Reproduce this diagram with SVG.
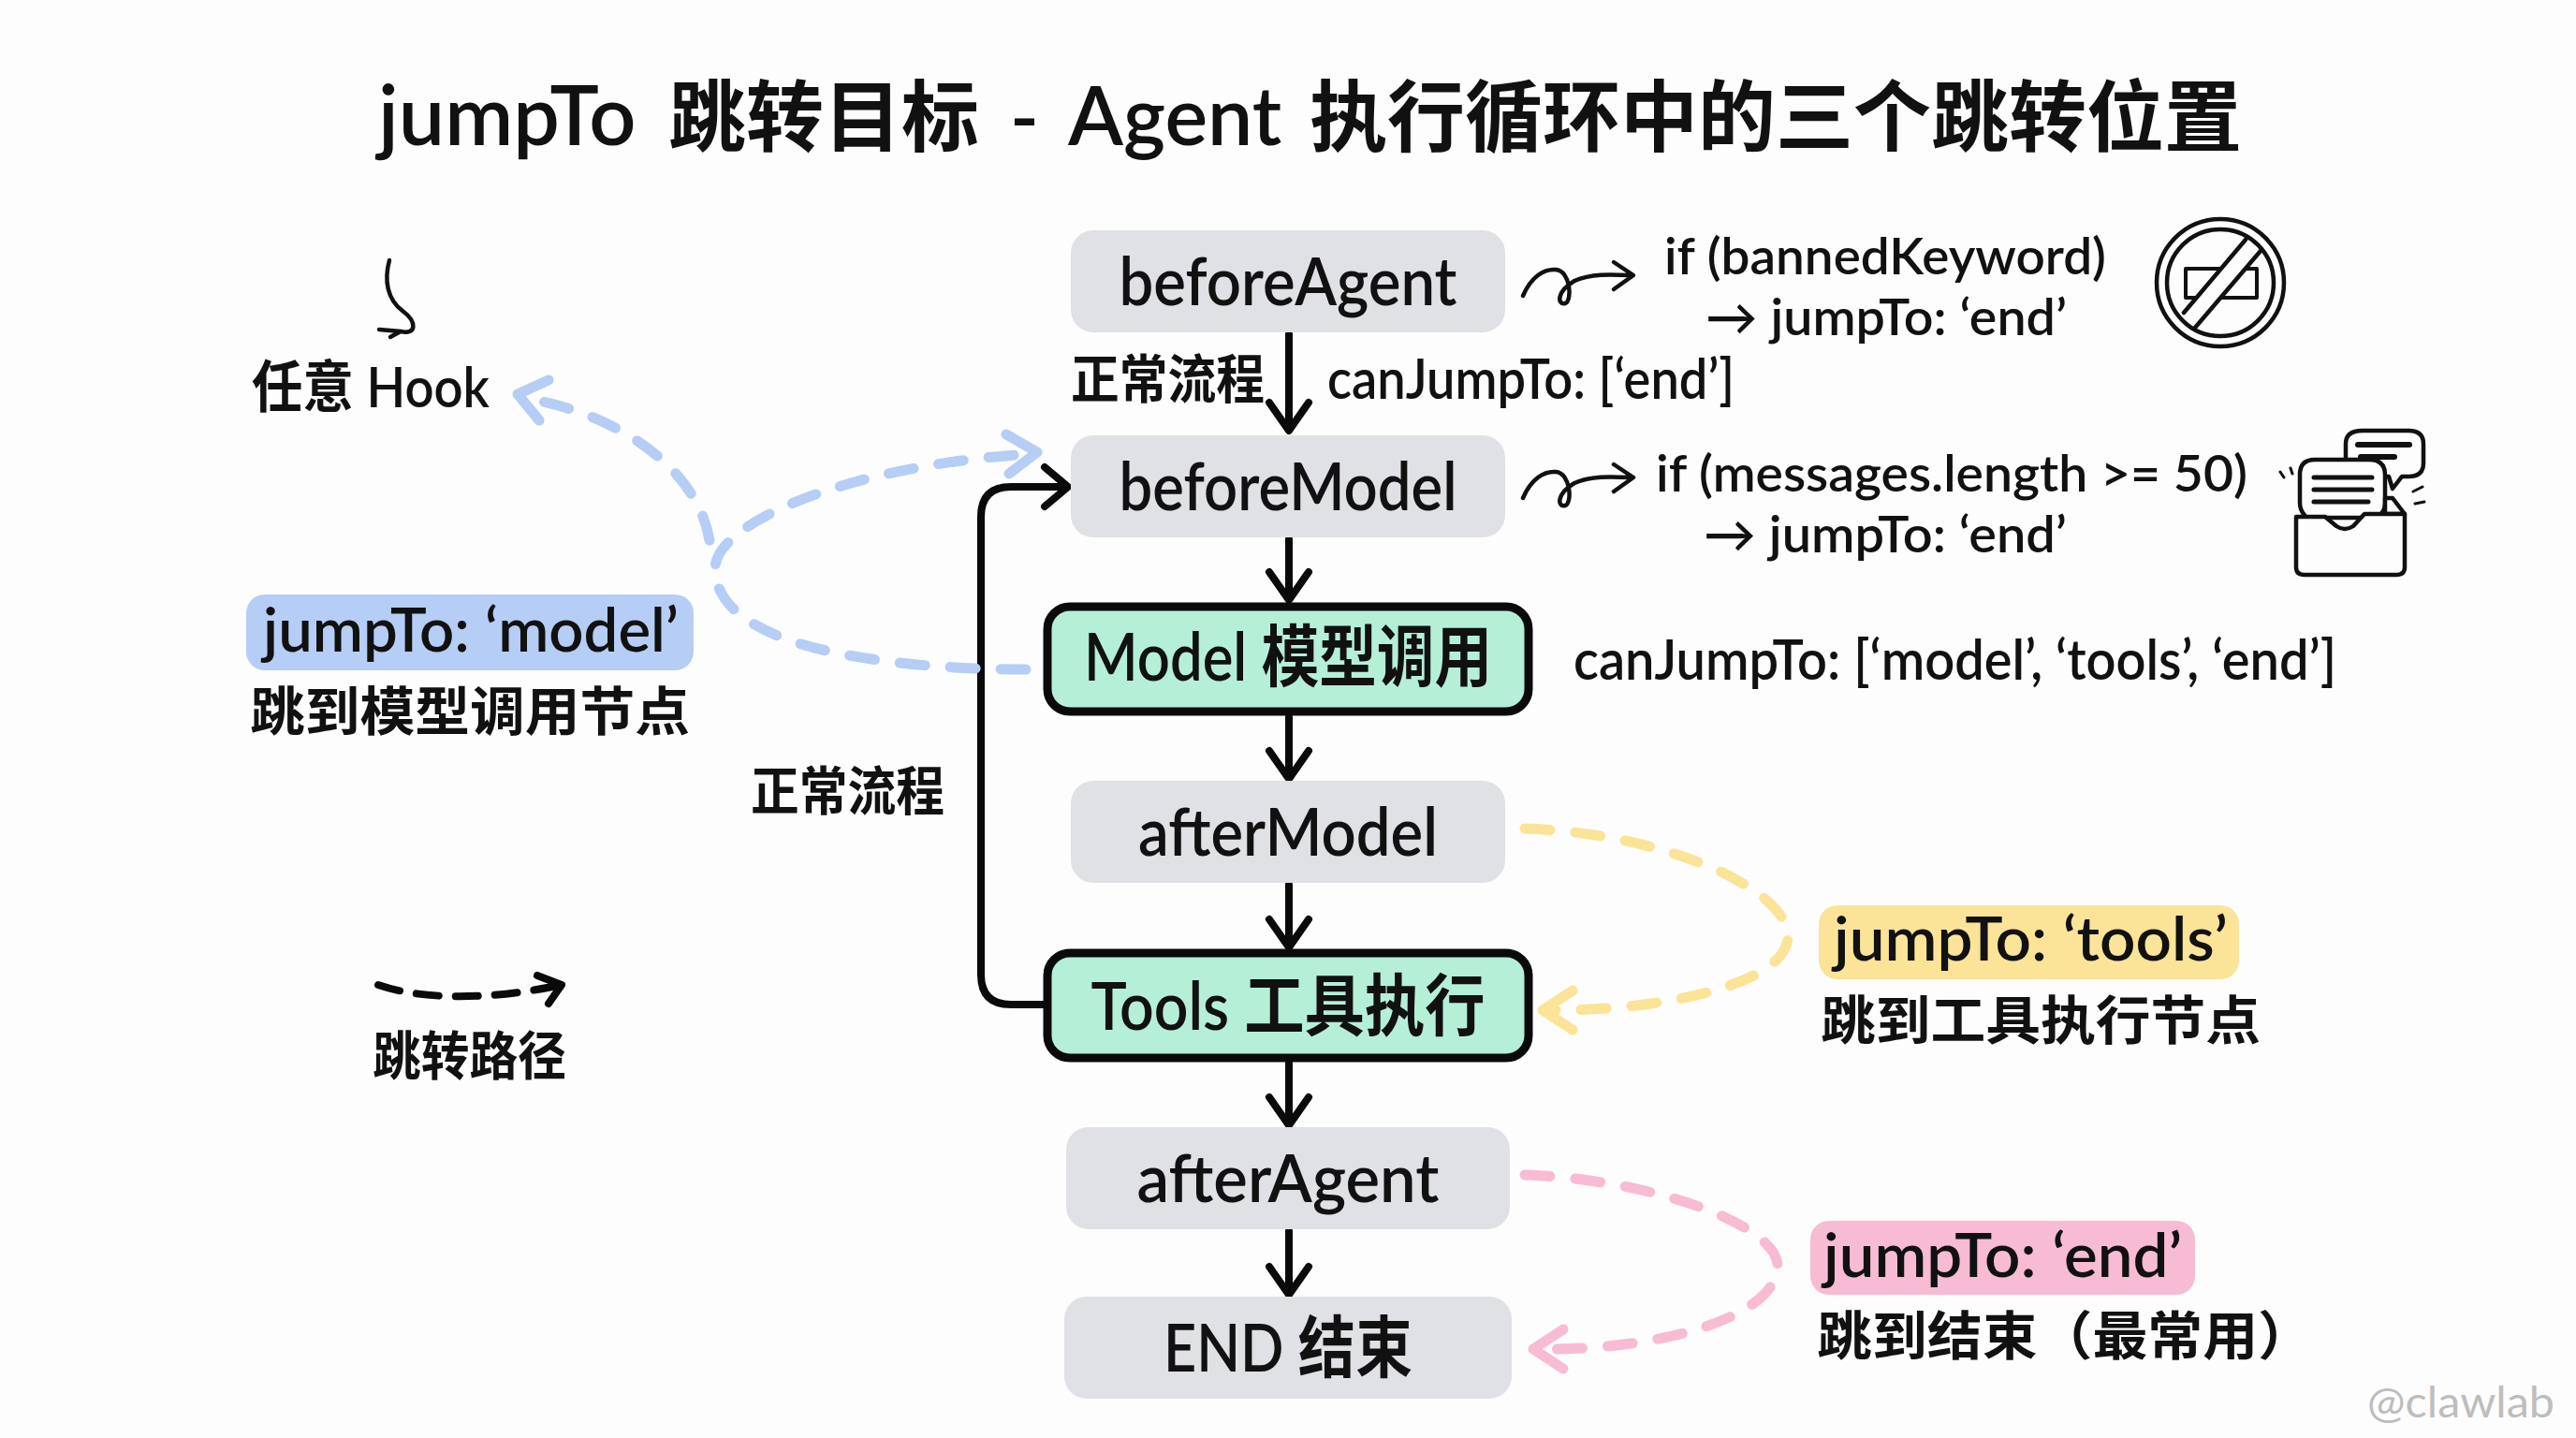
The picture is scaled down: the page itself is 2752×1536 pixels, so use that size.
<svg xmlns="http://www.w3.org/2000/svg" width="2752" height="1536" viewBox="0 0 2752 1536">
<style>
text{font-family:"Lato","Noto Sans CJK SC",sans-serif;font-weight:600;fill:#111}
.n{font-size:72px;text-anchor:middle}
.c{font-size:60px}
.t{font-size:54px}
.z{font-size:56px;font-weight:700}
.box{fill:#dfe1e5}
.act{fill:#b5efd8;stroke:#0a0a0a;stroke-width:9}
.flow{fill:none;stroke:#0a0a0a;stroke-width:8;stroke-linecap:round;stroke-linejoin:round}
.thin{fill:none;stroke:#111;stroke-width:4.5;stroke-linecap:round;stroke-linejoin:round}
.dash{fill:none;stroke-width:11;stroke-linecap:round;stroke-dasharray:27 27}
.head{fill:none;stroke-width:11;stroke-linecap:round;stroke-linejoin:round}
</style>
<rect width="2752" height="1536" fill="#fdfdfd"/>
<text id="title" y="155" font-size="83"><tspan x="404" font-size="88">jumpTo </tspan><tspan x="714">跳转目标 </tspan><tspan x="1079">- </tspan><tspan x="1141" font-size="86">Agent </tspan><tspan x="1399">执行循环中的三个跳转位置</tspan></text>

<g id="connectors">
<path class="flow" d="M1377 357V456M1356 430L1377 460L1398 430"/>
<path class="flow" d="M1377 576V640M1356 611L1377 641L1398 611"/>
<path class="flow" d="M1377 766V830M1356 802L1377 832L1398 802"/>
<path class="flow" d="M1377 945V1010M1356 982L1377 1012L1398 982"/>
<path class="flow" d="M1377 1136V1200M1356 1172L1377 1202L1398 1172"/>
<path class="flow" d="M1377 1315V1381M1356 1353L1377 1383L1398 1353"/>
<path class="flow" d="M1115 1073H1080Q1048 1073 1048 1041V552Q1048 520 1080 520H1136M1116 499L1141 520L1116 541"/>
<g stroke="#b6cdf6">
<path class="dash" d="M1096 715C980 715 764 700 764 607C764 560 900 500 1085 486"/>
<path class="head" d="M1075 464L1108 483L1078 506"/>
<path class="dash" d="M758 577C745 500 660 445 575 428"/>
<path class="head" d="M586 406L553 421L576 449"/>
</g>
<g stroke="#fbe498">
<path class="dash" d="M1629 885C1780 890 1910 950 1910 1000C1910 1050 1780 1079 1662 1079"/>
<path class="head" d="M1680 1058L1648 1079L1680 1100"/>
</g>
<g stroke="#f8bbd4">
<path class="dash" d="M1629 1255C1770 1260 1899 1310 1899 1352C1899 1405 1780 1441 1655 1441"/>
<path class="head" d="M1670 1420L1638 1441L1670 1462"/>
</g>
<path class="flow" style="stroke-dasharray:24 18" d="M404 1052C450 1068 520 1068 590 1054"/>
<path class="flow" d="M574 1042L600 1052L586 1072"/>
<path class="thin" d="M416 278C410 300 414 320 430 332C446 344 445 358 428 354L405 352M428 354L417 360"/>
<path class="thin" d="M1627 316C1636 295 1650 287 1662 288C1678 289 1680 322 1672 324C1664 326 1662 312 1682 300C1700 292 1720 293 1743 294M1724 280L1745 294L1724 309"/>
<path class="thin" d="M1627 532C1636 511 1650 503 1662 504C1678 505 1680 538 1672 540C1664 542 1662 528 1682 516C1700 508 1720 509 1743 510M1724 496L1745 510L1724 525"/>
</g>

<g id="beforeAgent"><rect class="box" x="1144" y="246" width="464" height="109" rx="24"/><text class="n" x="1376" y="326" textLength="361" lengthAdjust="spacingAndGlyphs">beforeAgent</text></g>
<g id="beforeModel"><rect class="box" x="1144" y="465" width="464" height="109" rx="24"/><text class="n" x="1376" y="545" textLength="361" lengthAdjust="spacingAndGlyphs">beforeModel</text></g>
<g id="model"><rect class="act" x="1119" y="648" width="514" height="112" rx="24"/><text class="n" x="1376" y="727" textLength="436" lengthAdjust="spacingAndGlyphs">Model 模型调用</text></g>
<g id="afterModel"><rect class="box" x="1144" y="834" width="464" height="109" rx="24"/><text class="n" x="1376" y="914" textLength="320" lengthAdjust="spacingAndGlyphs">afterModel</text></g>
<g id="tools"><rect class="act" x="1119" y="1018" width="514" height="112" rx="24"/><text class="n" x="1376" y="1100" textLength="421" lengthAdjust="spacingAndGlyphs">Tools 工具执行</text></g>
<g id="afterAgent"><rect class="box" x="1139" y="1204" width="474" height="109" rx="24"/><text class="n" x="1376" y="1284" textLength="323" lengthAdjust="spacingAndGlyphs">afterAgent</text></g>
<g id="end"><rect class="box" x="1137" y="1385" width="478" height="109" rx="24"/><text class="n" x="1376" y="1465" textLength="266" lengthAdjust="spacingAndGlyphs">END 结束</text></g>

<g id="labels">
<text class="z" x="1144" y="425" textLength="207" lengthAdjust="spacingAndGlyphs">正常流程</text>
<text class="c" x="1418" y="426" textLength="435" lengthAdjust="spacingAndGlyphs">canJumpTo: [‘end’]</text>
<text class="t" x="1778" y="293" textLength="472" lengthAdjust="spacingAndGlyphs">if (bannedKeyword)</text>
<text class="t" x="1822" y="358" textLength="386" lengthAdjust="spacingAndGlyphs">→ jumpTo: ‘end’</text>
<text class="t" x="1769" y="525" textLength="632" lengthAdjust="spacingAndGlyphs">if (messages.length &gt;= 50)</text>
<text class="t" x="1820" y="590" textLength="388" lengthAdjust="spacingAndGlyphs">→ jumpTo: ‘end’</text>
<text class="c" x="1681" y="726" textLength="815" lengthAdjust="spacingAndGlyphs">canJumpTo: [‘model’, ‘tools’, ‘end’]</text>
<text class="z" x="802" y="865" textLength="207" lengthAdjust="spacingAndGlyphs">正常流程</text>
<text class="z" x="398" y="1148" textLength="207" lengthAdjust="spacingAndGlyphs">跳转路径</text>
<text class="c" x="269" y="435" textLength="254" lengthAdjust="spacingAndGlyphs">任意 Hook</text>
</g>

<g id="jump-model"><rect x="263" y="635" width="478" height="81" rx="20" fill="#b6cdf6"/><text x="281" y="696" font-size="66" textLength="444" lengthAdjust="spacingAndGlyphs">jumpTo: ‘model’</text><text class="z" x="267" y="780" textLength="470" lengthAdjust="spacingAndGlyphs">跳到模型调用节点</text></g>
<g id="jump-tools"><rect x="1943" y="967" width="449" height="79" rx="20" fill="#fbe498"/><text x="1959" y="1026" font-size="66" textLength="421" lengthAdjust="spacingAndGlyphs">jumpTo: ‘tools’</text><text class="z" x="1945" y="1110" textLength="470" lengthAdjust="spacingAndGlyphs">跳到工具执行节点</text></g>
<g id="jump-end"><rect x="1934" y="1304" width="411" height="79" rx="20" fill="#f8bbd4"/><text x="1948" y="1364" font-size="66" textLength="383" lengthAdjust="spacingAndGlyphs">jumpTo: ‘end’</text><text class="z" x="1941" y="1447" textLength="530" lengthAdjust="spacingAndGlyphs">跳到结束（最常用）</text></g>

<g id="icon-ban" fill="none" stroke="#111" stroke-width="4.5" stroke-linejoin="round" stroke-linecap="round">
<circle cx="2372" cy="302" r="68"/><circle cx="2372" cy="302" r="57"/>
<rect x="2335" y="287" width="76" height="31" stroke-width="4"/>
<path d="M2333 334L2399 256L2415 268L2345 350Z" fill="#fdfdfd" stroke="none"/>
<path d="M2333 334L2399 256M2345 350L2415 268"/>
</g>
<g id="icon-chat" fill="#fdfdfd" stroke="#111" stroke-width="4.5" stroke-linejoin="round" stroke-linecap="round">
<path d="M2524 460H2573Q2589 460 2589 474V495Q2589 509 2573 509H2566L2556 522L2552 509H2520Q2506 509 2506 495V474Q2506 460 2524 460Z"/>
<path d="M2519 475H2574M2522 488H2558" stroke-width="6"/>
<path d="M2473 491H2531Q2548 491 2548 507V537Q2548 553 2531 553H2472L2462 566L2462 550Q2457 545 2457 537V507Q2457 491 2473 491Z"/>
<path d="M2472 510H2534M2472 523H2534M2472 536H2530" stroke-width="5"/>
<path d="M2548 532H2556L2569 549H2548Z"/>
<path d="M2453 552H2484L2496 562Q2505 568 2514 562L2526 549H2569V606Q2569 614 2560 614H2462Q2453 614 2453 606Z"/>
<path d="M2440 510L2436 504M2449 506L2447 500M2578 525L2588 520M2580 538L2590 536" stroke-width="3"/>
</g>
<text id="watermark" x="2529" y="1514" font-size="46" style="fill:#bdbdbd;font-weight:400" textLength="200" lengthAdjust="spacingAndGlyphs">@clawlab</text>
</svg>
